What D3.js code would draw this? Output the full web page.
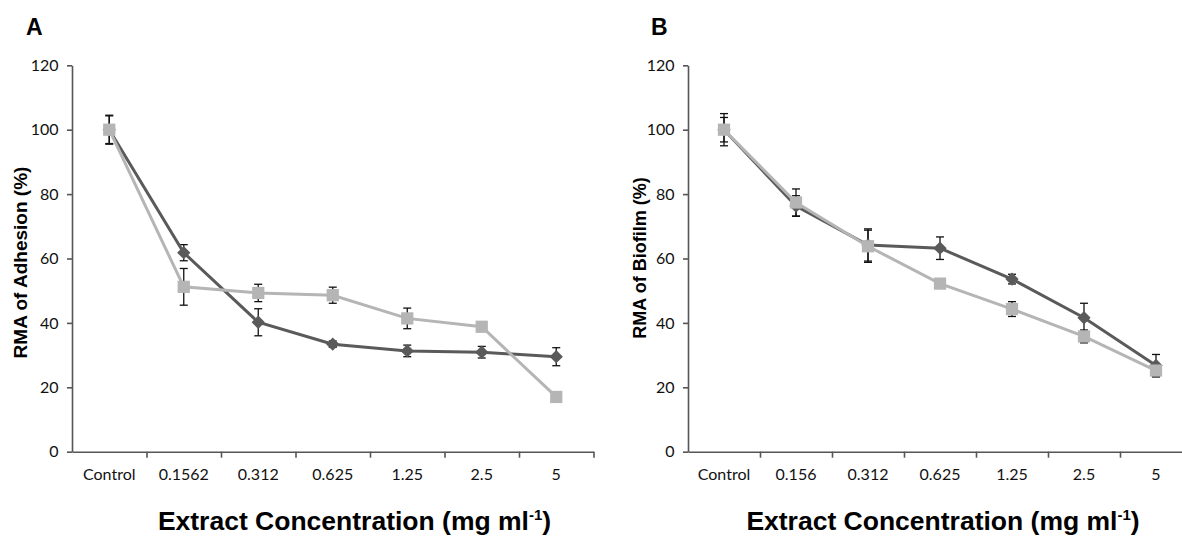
<!DOCTYPE html>
<html>
<head>
<meta charset="utf-8">
<script src="https://cdn.jsdelivr.net/npm/d3@7"></script>
<style>
  body { margin: 0; background: #fff; }
  .tick text { font-family: Lato, "Open Sans", sans-serif; font-size: 16px; fill: #111; }
  .title { font-family: "Liberation Sans", Arial, sans-serif; font-weight: bold; fill: #000; }
</style>
</head>
<body>
<svg id="chart"></svg>
<script>
// categories
var catsA = ["Control", "0.1562", "0.312", "0.625", "1.25", "2.5", "5"];
var catsB = ["Control", "0.156", "0.312", "0.625", "1.25", "2.5", "5"];
var yTicks = [0, 20, 40, 60, 80, 100, 120];

// panel A - adhesion
var adhDark = [100, 61.8, 40.2, 33.4, 31.3, 30.9, 29.5];
var adhDarkErr = [4.5, 2.5, 4.2, 1.0, 1.8, 1.8, 2.8];
var adhLight = [100, 51.2, 49.3, 48.6, 41.4, 38.8, 17.0];
var adhLightErr = [4.3, 5.7, 2.7, 2.5, 3.2, 1.2, 1.0];

// panel B - biofilm
var bioDark = [100, 76.3, 64.2, 63.2, 53.6, 41.6, 26.8];
var bioDarkErr = [5.0, 3.2, 5.0, 3.5, 1.5, 4.5, 3.4];
var bioLight = [100, 77.4, 63.8, 52.2, 44.3, 35.8, 25.2];
var bioLightErr = [3.8, 4.2, 5.0, 1.2, 2.3, 2.0, 2.0];

var w = 1182;
var h = 536;
var darkColor = "#5a5a5a";
var lightColor = "#b5b5b5";
var axisColor = "#555";

var svg = d3.select("#chart")
  .attr("width", w)
  .attr("height", h);

function drawPanel(p) {
  var g = svg.append("g");

  var y = d3.scaleLinear()
    .domain([0, 120])
    .range([451.7, 65.3]);

  var x = d3.scaleBand()
    .domain(p.cats)
    .range([p.left, p.right]);

  // boundaries between categories, for the tick marks
  var xEdge = d3.scaleLinear()
    .domain([0, p.cats.length])
    .range([p.left, p.right]);

  var yAxis = d3.axisLeft(y)
    .tickValues(yTicks)
    .tickSize(5)
    .tickSizeOuter(0)
    .tickPadding(8.5);

  var ya = g.append("g")
    .attr("transform", "translate(" + p.left + ",0)")
    .call(yAxis);

  var xa = g.append("g")
    .attr("transform", "translate(0," + y(0) + ")")
    .call(d3.axisBottom(xEdge)
      .tickValues(d3.range(1, p.cats.length + 1))
      .tickFormat("")
      .tickSize(6)
      .tickSizeOuter(0));

  var xl = g.append("g")
    .attr("transform", "translate(0," + y(0) + ")")
    .call(d3.axisBottom(x).tickSize(0));
  xl.select(".domain").remove();
  xl.selectAll("text").attr("y", 28).attr("dy", null);

  [ya, xa].forEach(function(a) {
    a.select(".domain").attr("stroke", axisColor).attr("stroke-width", 1.6);
    a.selectAll(".tick line").attr("stroke", axisColor).attr("stroke-width", 1.6);
  });

  var cx = function(i) { return x(p.cats[i]) + x.bandwidth() / 2; };

  // error bars (behind the markers)
  [[p.dark, p.darkErr], [p.light, p.lightErr]].forEach(function(s) {
    var eb = g.append("g").attr("stroke", "#111").attr("stroke-width", 1.3);
    s[0].forEach(function(v, i) {
      var e = s[1][i];
      eb.append("line")
        .attr("x1", cx(i)).attr("x2", cx(i))
        .attr("y1", y(v + e)).attr("y2", y(v - e));
      [v + e, v - e].forEach(function(c) {
        eb.append("line")
          .attr("x1", cx(i) - 4).attr("x2", cx(i) + 4)
          .attr("y1", y(c)).attr("y2", y(c));
      });
    });
  });

  var line = d3.line()
    .x(function(d, i) { return cx(i); })
    .y(function(d) { return y(d); });

  // dark series - diamonds
  g.append("path")
    .datum(p.dark)
    .attr("d", line)
    .attr("fill", "none")
    .attr("stroke", darkColor)
    .attr("stroke-width", 3);

  g.selectAll(".dia")
    .data(p.dark)
    .enter()
    .append("path")
    .attr("class", "dia")
    .attr("d", d3.symbol(d3.symbolSquare, 88))
    .attr("transform", function(d, i) {
      return "translate(" + cx(i) + "," + y(d) + ") rotate(45)";
    })
    .attr("fill", darkColor);

  // light series - squares
  g.append("path")
    .datum(p.light)
    .attr("d", line)
    .attr("fill", "none")
    .attr("stroke", lightColor)
    .attr("stroke-width", 3);

  g.selectAll(".sq")
    .data(p.light)
    .enter()
    .append("path")
    .attr("class", "sq")
    .attr("d", d3.symbol(d3.symbolSquare, 150))
    .attr("transform", function(d, i) {
      return "translate(" + cx(i) + "," + y(d) + ")";
    })
    .attr("fill", lightColor);

  // panel letter
  g.append("text")
    .attr("class", "title")
    .attr("x", p.letterX)
    .attr("y", 35)
    .attr("font-size", "23px")
    .text(p.letter);

  // y title
  g.append("text")
    .attr("class", "title")
    .attr("text-anchor", "middle")
    .attr("font-size", p.yTitleSize + "px")
    .attr("transform", "translate(" + p.yTitleX + "," + p.yTitleY + ") rotate(-90)")
    .text(p.yTitle);

  // x title
  var xt = g.append("text")
    .attr("class", "title")
    .attr("text-anchor", "middle")
    .attr("x", p.xTitleX)
    .attr("y", 530)
    .attr("font-size", "26.5px");
  xt.append("tspan").text("Extract Concentration (mg ml");
  xt.append("tspan").attr("font-size", "15px").attr("dy", -10).text("-1");
  xt.append("tspan").attr("dy", 10).text(")");
}

drawPanel({
  cats: catsA, left: 72, right: 593.5,
  dark: adhDark, darkErr: adhDarkErr, light: adhLight, lightErr: adhLightErr,
  letter: "A", letterX: 26,
  yTitle: "RMA of Adhesion (%)", yTitleX: 27, yTitleY: 262.5, yTitleSize: 19,
  xTitleX: 354.5
});

drawPanel({
  cats: catsB, left: 688, right: 1192,
  dark: bioDark, darkErr: bioDarkErr, light: bioLight, lightErr: bioLightErr,
  letter: "B", letterX: 651,
  yTitle: "RMA of Biofilm (%)", yTitleX: 646, yTitleY: 258, yTitleSize: 18,
  xTitleX: 943
});
</script>
</body>
</html>
